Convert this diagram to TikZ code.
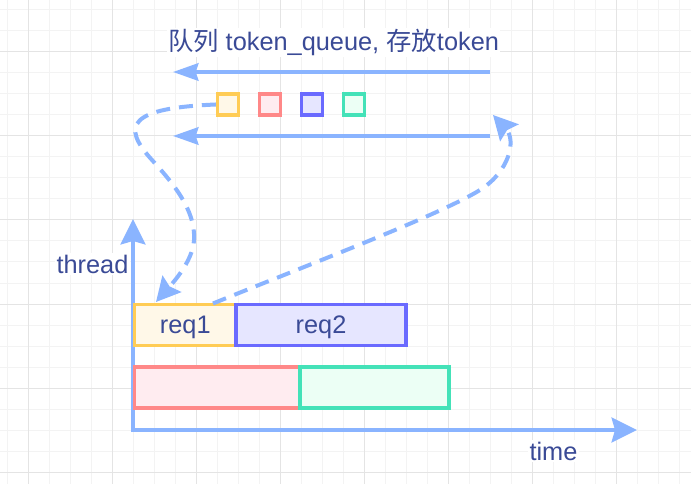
\documentclass[tikz,border=0pt]{standalone}
\usepackage{fontspec}
\setmainfont{Liberation Sans}
\newfontfamily\cjk{Noto Sans CJK SC}
\usetikzlibrary{arrows.meta}
\definecolor{gridminor}{RGB}{243,243,243}
\definecolor{gridmajor}{RGB}{228,228,228}
\definecolor{lineblue}{RGB}{138,180,255}
\definecolor{txt}{RGB}{58,74,150}
\definecolor{orS}{RGB}{255,204,85}
\definecolor{orF}{RGB}{255,248,232}
\definecolor{rdS}{RGB}{255,136,136}
\definecolor{rdF}{RGB}{255,236,240}
\definecolor{blS}{RGB}{106,106,255}
\definecolor{blF}{RGB}{230,230,255}
\definecolor{gnS}{RGB}{68,226,184}
\definecolor{gnF}{RGB}{236,255,245}
\tikzset{
  axtip/.tip={Stealth[length=19pt, width=18.5pt, inset=2.5pt]},
  qtip/.tip={Stealth[length=19pt, width=13pt, inset=2pt]},
  dtip/.tip={Stealth[length=18pt, width=18.5pt, inset=2.5pt]},
  minorline/.style={gridminor, line width=0.75pt},
  majorline/.style={gridmajor, line width=0.75pt},
  axisline/.style={lineblue, line width=3pt},
  dashline/.style={lineblue, line width=3pt, dash pattern=on 10.5pt off 6.75pt},
  tok/.style={rectangle, line width=2.5pt, minimum size=15.75pt, inner sep=0pt},
  box/.style={rectangle, line width=2.6pt, inner sep=0pt, minimum height=30.75pt, text depth=0pt, text=txt, font=\fontsize{19pt}{22pt}\selectfont},
  lbl/.style={text=txt, font=\fontsize{19pt}{22pt}\selectfont, fill=white, inner sep=1pt, anchor=base}
}
\begin{document}
\begin{tikzpicture}[x=0.75pt, y=-0.75pt]
\useasboundingbox (0,0) rectangle (691,484);
\fill[white] (0,0) rectangle (691,484);
% grid
\foreach \x in {7,28,...,700} \draw[minorline] (\x,0) -- (\x,484);
\foreach \y in {10,31,...,484} \draw[minorline] (0,\y) -- (691,\y);
\foreach \x in {28,112,...,700} \draw[majorline] (\x,0) -- (\x,484);
\foreach \y in {52,136,...,484} \draw[majorline] (0,\y) -- (691,\y);

% title
\node[lbl] (title) at (333.5,50.5) {{\cjk 队列} token\_queue, {\cjk 存放}token};

% queue arrows
\coordinate (q1s) at (490,72);
\coordinate (q1e) at (173,72);
\coordinate (q2s) at (490,136);
\coordinate (q2e) at (173,136);
\draw[axisline, -{qtip}] (q1s) -- (q1e);
\draw[axisline, -{qtip}] (q2s) -- (q2e);

% tokens
\node[tok, draw=orS, fill=orF] (t1) at (228,104.5) {};
\node[tok, draw=rdS, fill=rdF] (t2) at (270,104.5) {};
\node[tok, draw=blS, fill=blF] (t3) at (312,104.5) {};
\node[tok, draw=gnS, fill=gnF] (t4) at (354,104.5) {};

% axes
\coordinate (ytip) at (133,219);
\coordinate (orig) at (133,430);
\coordinate (xtip) at (637,430);
\draw[axisline, {axtip}-{axtip}] (ytip) -- (orig) -- (xtip);
\node[lbl] (thread) at (92.5,273) {thread};
\node[lbl] (time) at (553.5,460) {time};

% boxes
\node[box, draw=orS, fill=orF, minimum width=76.1pt] (req1) at (185.25,325) {req1};
\node[box, draw=blS, fill=blF, minimum width=127.5pt] (req2) at (321,325) {req2};
\node[box, draw=rdS, fill=rdF, minimum width=124.1pt] (r3) at (217.25,387.5) {};
\node[box, draw=gnS, fill=gnF, minimum width=111.75pt] (r4) at (374.5,387.5) {};

% dashed connectors
\coordinate (d1end) at (156,302);
\coordinate (d2start) at (213,303.5);
\coordinate (d2end) at (493,115);
\draw[dashline, -{dtip}] (t1.west) .. controls (130,108) and (120,125) .. (152,160)
  .. controls (172,182) and (196,210) .. (194,240)
  .. controls (193,262) and (170,286) .. (d1end);
\draw[dashline, -{dtip}] (d2start) .. controls (300,268) and (440,215) .. (480,190)
  .. controls (510,171) and (516,140) .. (d2end);
\end{tikzpicture}
\end{document}
